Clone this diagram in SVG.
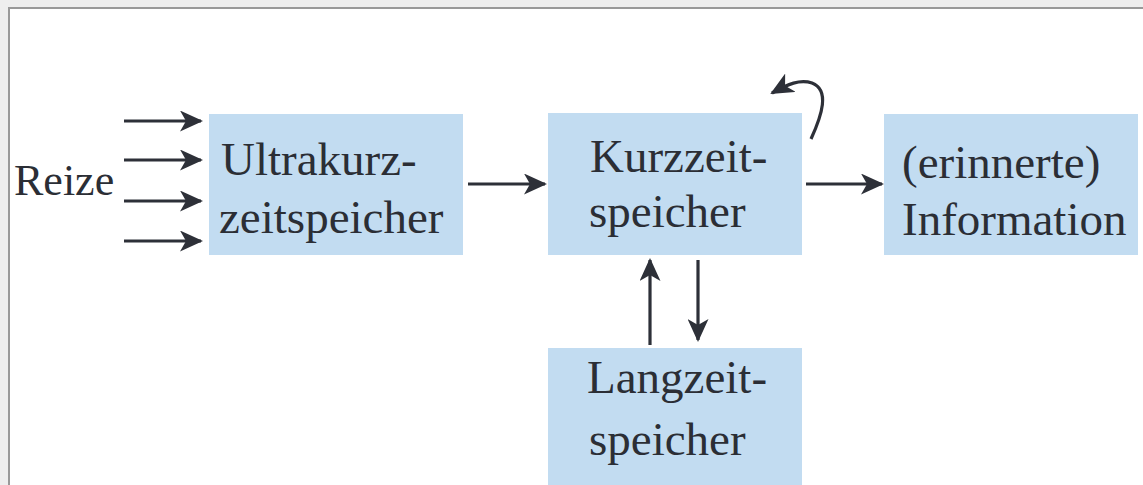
<svg xmlns="http://www.w3.org/2000/svg" width="1143" height="485" viewBox="0 0 1143 485">
  <style>
    .box { fill: #c2dcf1; }
    .lbl { font-family: "Liberation Serif", "Times New Roman", serif; font-size: 47px; fill: #2b2e35; }
    .edge { stroke: #2d3038; stroke-width: 3.2; fill: none; marker-end: url(#head); }
  </style>
  <defs>
    <marker id="head" viewBox="0 0 23 21" refX="21" refY="10.5" markerWidth="23" markerHeight="21" markerUnits="userSpaceOnUse" orient="auto">
      <path d="M0,0 L23,10.5 L0,21 L6,10.5 Z" fill="#2d3038"/>
    </marker>
  </defs>

  <!-- page frame -->
  <rect x="0" y="0" width="1143" height="485" fill="#eeeeee"/>
  <rect x="9" y="8" width="1140" height="480" fill="#ffffff" stroke="#999999" stroke-width="2"/>

  <text class="lbl" x="14" y="195" style="font-size:44px">Reize</text>

  <g id="ultrakurzzeitspeicher">
    <rect class="box" x="209" y="114" width="254" height="141"/>
    <text class="lbl" x="221" y="175">Ultrakurz-</text>
    <text class="lbl" x="219" y="233">zeitspeicher</text>
  </g>

  <g id="kurzzeitspeicher">
    <rect class="box" x="548" y="113" width="254" height="142"/>
    <text class="lbl" x="590" y="172">Kurzzeit-</text>
    <text class="lbl" x="589" y="227">speicher</text>
  </g>

  <g id="information">
    <rect class="box" x="884" y="114" width="254" height="141"/>
    <text class="lbl" x="902" y="178">(erinnerte)</text>
    <text class="lbl" x="902" y="235">Information</text>
  </g>

  <g id="langzeitspeicher">
    <rect class="box" x="548" y="348" width="254" height="140"/>
    <text class="lbl" x="587" y="393">Langzeit-</text>
    <text class="lbl" x="589" y="455">speicher</text>
  </g>

  <g id="connectors">
    <line class="edge" x1="124" y1="121" x2="201" y2="121"/>
    <line class="edge" x1="124" y1="160" x2="201" y2="160"/>
    <line class="edge" x1="124" y1="201" x2="201" y2="201"/>
    <line class="edge" x1="124" y1="241" x2="201" y2="241"/>
    <line class="edge" x1="468" y1="184" x2="545" y2="184"/>
    <line class="edge" x1="806" y1="184" x2="882" y2="184"/>
    <line class="edge" x1="650" y1="345" x2="650" y2="260"/>
    <line class="edge" x1="698" y1="260" x2="698" y2="340"/>
    <path class="edge" d="M811,139 C822,115 830,90 812,83 C800,79 788,84 772,93"/>
  </g>
</svg>
